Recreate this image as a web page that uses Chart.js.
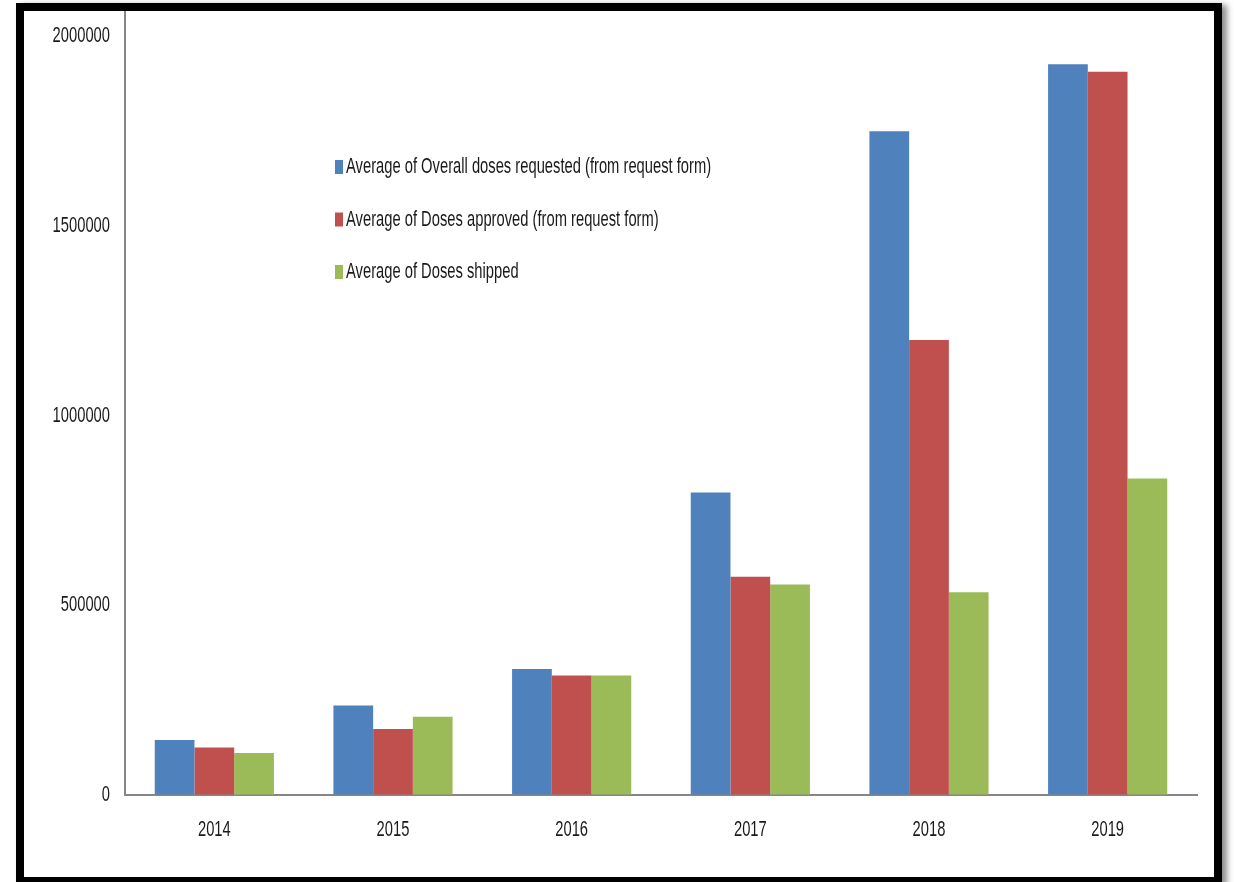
<!DOCTYPE html>
<html>
<head>
<meta charset="utf-8">
<script src="https://cdn.jsdelivr.net/npm/chart.js@4"></script>
<style>
  html, body { margin: 0; padding: 0; background: #fff; }
  #wrap { position: relative; width: 1236px; height: 882px; overflow: hidden; }
  #c { position: absolute; left: 0; top: 0; }
  #frame { position: absolute; left: 16px; top: 3px; width: 1190px; height: 866px;
           border: 8px solid #000; box-shadow: 5px 2px 6px rgba(0,0,0,0.45); pointer-events: none; }
</style>
</head>
<body>
<div id="wrap">
  <canvas id="c" width="1236" height="882"></canvas>
  <div id="frame"></div>
</div>
<script>
const years = ['2014', '2015', '2016', '2017', '2018', '2019'];
const requested = [145000, 236000, 332000, 797000, 1749000, 1926000];
const approved  = [125000, 174000, 315000, 575000, 1199000, 1906000];
const shipped   = [111000, 206000, 315000, 555000, 534000, 834000];
const seriesNames = [
  'Average of Overall doses requested (from request form)',
  'Average of Doses approved (from request form)',
  'Average of Doses shipped'
];
const yTicks = [0, 500000, 1000000, 1500000, 2000000];
const colors = ['#4F81BD', '#C0504D', '#9BBB59'];

const FONT = '"Liberation Sans", Arial, sans-serif';
const SX = 0.67;       // horizontal compression of the reference's narrow text
const TEXT = '#1a1a1a';

function narrowText(ctx, str, x, y, align) {
  ctx.save();
  ctx.translate(x, y);
  ctx.scale(SX, 1);
  ctx.textAlign = align;
  ctx.fillText(str, 0, 0);
  ctx.restore();
}

const narrowLabels = {
  id: 'narrowLabels',
  afterDraw(chart) {
    const ctx = chart.ctx;
    const a = chart.chartArea;
    const xs = chart.scales.x, ys = chart.scales.y;
    ctx.save();
    ctx.fillStyle = TEXT;
    ctx.font = '22px ' + FONT;
    ctx.textBaseline = 'middle';
    xs.ticks.forEach((t, i) => {
      narrowText(ctx, String(chart.data.labels[i]), xs.getPixelForTick(i), a.bottom + 35, 'center');
    });
    ys.ticks.forEach(t => {
      narrowText(ctx, String(t.value), a.left - 15, ys.getPixelForValue(t.value), 'right');
    });
    // legend inside the plot
    const x0 = a.left + 209;
    const y0 = a.top + 156;
    chart.data.datasets.forEach((ds, i) => {
      const y = y0 + i * 52.5;
      ctx.fillStyle = ds.backgroundColor;
      ctx.fillRect(x0 + 1, y - 7, 8, 14);
      ctx.fillStyle = TEXT;
      narrowText(ctx, ds.label, x0 + 12, y, 'left');
    });
    ctx.restore();
  }
};

new Chart(document.getElementById('c'), {
  type: 'bar',
  data: {
    labels: years,
    datasets: [
      { label: seriesNames[0], data: requested, backgroundColor: colors[0] },
      { label: seriesNames[1], data: approved,  backgroundColor: colors[1] },
      { label: seriesNames[2], data: shipped,   backgroundColor: colors[2] }
    ]
  },
  options: {
    responsive: false,
    animation: false,
    devicePixelRatio: 1,
    layout: { padding: { left: 0, top: 11, right: 39, bottom: 0 } },
    datasets: { bar: { categoryPercentage: 0.667, barPercentage: 1.0 } },
    plugins: {
      legend: { display: false },
      tooltip: { enabled: false }
    },
    scales: {
      x: {
        grid: { display: true, color: 'rgba(0,0,0,0)', drawTicks: false },
        border: { display: true, color: '#868686', width: 2 },
        ticks: { display: false },
        afterFit(s) { s.height = 87; s.paddingLeft = 0; s.paddingRight = 0; }
      },
      y: {
        min: 0,
        max: 2066000,
        grid: { display: true, color: 'rgba(0,0,0,0)', drawTicks: false },
        border: { display: true, color: '#868686', width: 2 },
        ticks: { display: false },
        afterBuildTicks(s) { s.ticks = yTicks.map(v => ({ value: v })); },
        afterFit(s) { s.width = 125; s.paddingTop = 0; s.paddingBottom = 0; }
      }
    }
  },
  plugins: [narrowLabels]
});
</script>
</body>
</html>
